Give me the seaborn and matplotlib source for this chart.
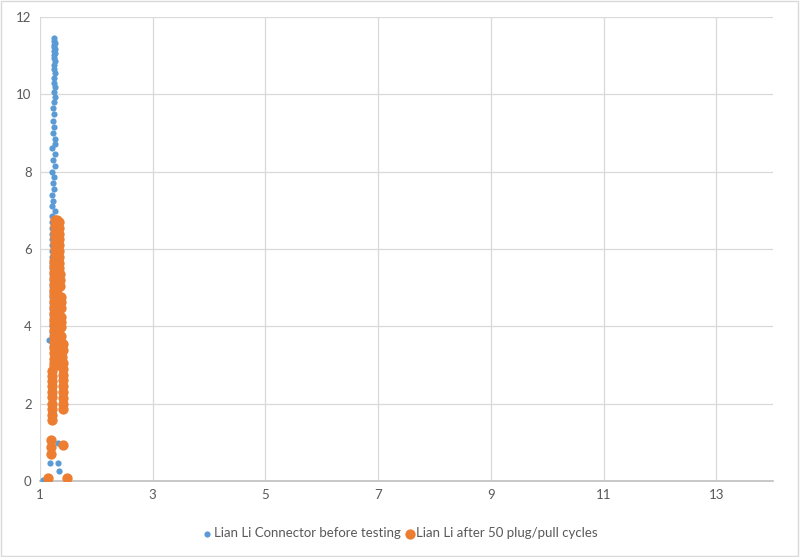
import matplotlib
matplotlib.use("Agg")
import matplotlib.pyplot as plt
import seaborn as sns
import pandas as pd
from matplotlib.patches import Rectangle

# series 1: connector before testing
blue_x = [1.25, 1.24, 1.26, 1.25, 1.24, 1.26, 1.25, 1.27, 1.24, 1.25,
          1.26, 1.24, 1.25, 1.26, 1.24, 1.25, 1.27, 1.24, 1.26, 1.25,
          1.23, 1.24, 1.23, 1.24, 1.23, 1.26, 1.27, 1.22, 1.27, 1.23,
          1.26, 1.22, 1.25, 1.23, 1.24, 1.22, 1.23, 1.22, 1.27, 1.21,
          1.22, 1.21, 1.22, 1.21, 1.22, 1.21, 1.22, 1.21, 1.22, 1.21,
          1.22, 1.21, 1.22, 1.21, 1.22, 1.21, 1.22, 1.21, 1.22, 1.21,
          1.16, 1.21, 1.32, 1.17, 1.32, 1.34, 1.05]
blue_y = [11.45, 11.38, 11.32, 11.27, 11.22, 11.17, 11.12, 11.07, 11.02, 10.95,
          10.85, 10.75, 10.65, 10.55, 10.42, 10.3, 10.18, 10.05, 9.93, 9.8,
          9.65, 9.48, 9.32, 9.15, 9.0, 8.85, 8.72, 8.6, 8.45, 8.3,
          8.15, 8.0, 7.85, 7.7, 7.55, 7.4, 7.25, 7.1, 6.98, 6.85,
          6.7, 6.55, 6.4, 6.25, 6.1, 5.95, 5.8, 5.65, 5.5, 5.35,
          5.2, 5.05, 4.9, 4.75, 4.6, 4.45, 4.3, 4.15, 4.0, 3.85,
          3.65, 3.5, 0.99, 0.47, 0.46, 0.27, 0.02]

# series 2: after 50 plug/pull cycles
orange_x = [1.26, 1.26, 1.26, 1.26, 1.26, 1.26, 1.26, 1.25, 1.25, 1.25,
            1.25, 1.25, 1.25, 1.25, 1.24, 1.24, 1.24, 1.24, 1.24, 1.24,
            1.24, 1.24, 1.24, 1.24, 1.24, 1.24, 1.24,
            1.31, 1.31, 1.31, 1.31, 1.31, 1.31, 1.31, 1.31, 1.31, 1.31,
            1.31, 1.31, 1.31, 1.31, 1.31, 1.31, 1.31, 1.31, 1.31, 1.31,
            1.31, 1.31, 1.31, 1.31, 1.31, 1.31,
            1.33, 1.34, 1.34, 1.34, 1.34, 1.34, 1.34, 1.34, 1.34, 1.35,
            1.35, 1.35, 1.37, 1.37, 1.37, 1.37, 1.37, 1.37, 1.37, 1.37,
            1.37, 1.37, 1.37, 1.36,
            1.40, 1.40, 1.39, 1.40, 1.40, 1.40, 1.40, 1.40, 1.40, 1.40,
            1.40, 1.40,
            1.21, 1.21, 1.21, 1.21, 1.21, 1.21, 1.21, 1.21, 1.21, 1.21,
            1.19, 1.19, 1.19, 1.41, 1.15, 1.48]
orange_y = [6.75, 6.6, 6.45, 6.3, 6.15, 6.0, 5.85, 5.7, 5.55, 5.4,
            5.25, 5.1, 4.95, 4.8, 4.65, 4.5, 4.35, 4.2, 4.05, 3.9,
            3.75, 3.6, 3.45, 3.3, 3.15, 3.05, 2.98,
            6.75, 6.62, 6.5, 6.35, 6.2, 6.05, 5.9, 5.75, 5.6, 5.45,
            5.3, 5.15, 5.0, 4.85, 4.7, 4.55, 4.4, 4.25, 4.1, 3.95,
            3.8, 3.65, 3.5, 3.35, 3.2, 3.05,
            6.7, 6.55, 6.4, 6.25, 6.1, 5.95, 5.8, 5.65, 5.5, 5.35,
            5.2, 5.05, 4.75, 4.62, 4.48, 4.25, 4.12, 3.98, 3.75, 3.6,
            3.45, 3.3, 3.15, 3.0,
            3.55, 3.4, 3.2, 3.05, 2.9, 2.75, 2.6, 2.45, 2.3, 2.15,
            2.0, 1.85,
            2.85, 2.72, 2.58, 2.45, 2.3, 2.18, 1.98, 1.85, 1.7, 1.58,
            1.06, 0.87, 0.7, 0.92, 0.08, 0.08]

blue_label = "Lian Li Connector before testing"
orange_label = "Lian Li after 50 plug/pull cycles"

x_ticks = [1, 3, 5, 7, 9, 11, 13]
y_ticks = [0, 2, 4, 6, 8, 10, 12]

df_blue = pd.DataFrame({"x": blue_x, "y": blue_y})
df_orange = pd.DataFrame({"x": orange_x, "y": orange_y})

sns.set_style("white")
plt.rcParams["font.family"] = ["Lato", "DejaVu Sans"]

fig = plt.figure(figsize=(8, 5.57), dpi=100)
ax = fig.add_axes([0.05, 0.1364, 0.916, 0.8331])

sns.scatterplot(data=df_blue, x="x", y="y", ax=ax, color="#5B9BD5",
                s=20, linewidth=0, label=blue_label, zorder=3)
sns.scatterplot(data=df_orange, x="x", y="y", ax=ax, color="#ED7D31",
                s=55, linewidth=0, label=orange_label, zorder=4)

ax.set_xlim(1, 14)
ax.set_ylim(0, 12)
ax.set_xticks(x_ticks)
ax.set_yticks(y_ticks)
ax.grid(True, color="#D9D9D9", linewidth=0.9)
ax.set_axisbelow(True)
ax.set_xlabel("")
ax.set_ylabel("")
for side in ["top", "right", "left"]:
    ax.spines[side].set_visible(False)
ax.spines["bottom"].set_color("#BFBFBF")
ax.spines["bottom"].set_linewidth(1.2)
ax.tick_params(axis="both", length=0, labelsize=9.5, colors="#595959", pad=6)

ax.legend(loc="center", bbox_to_anchor=(0.5, 0.043), bbox_transform=fig.transFigure,
          ncol=2, frameon=False, fontsize=9.5, handletextpad=0.1,
          columnspacing=0.3, borderpad=0, handlelength=0.8, labelcolor="#595959")

fig.patches.append(Rectangle((0.001, 0.001), 0.997, 0.997, transform=fig.transFigure,
                             fill=False, edgecolor="#D9D9D9", linewidth=1))

fig.savefig("out.png", dpi=100, facecolor="white")
